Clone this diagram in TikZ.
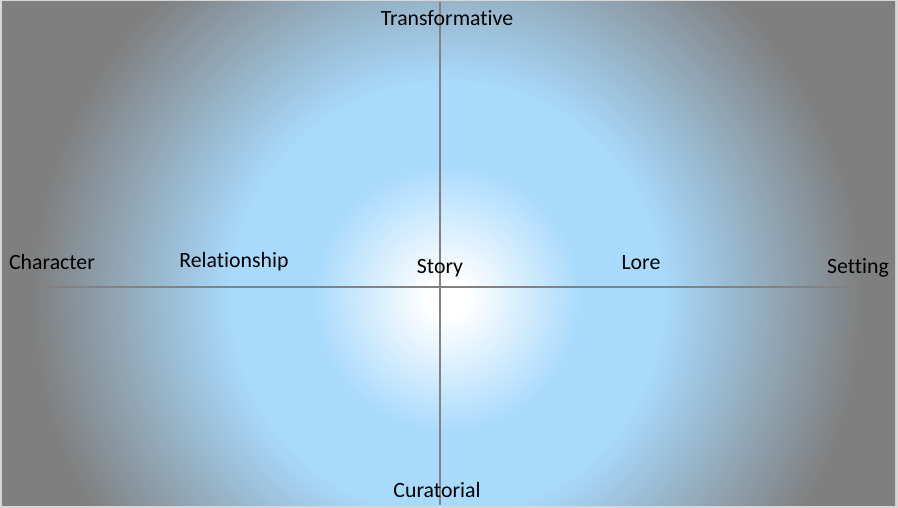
\documentclass[tikz,border=0pt]{standalone}
\usepackage{fontspec}
\setmainfont{Carlito}[Ligatures=NoCommon]
\usepackage{xcolor}
\usepackage{tikz}
\usetikzlibrary{positioning}
\definecolor{qsky}{HTML}{A8DAFC}
\definecolor{qgrey}{HTML}{7F7F7F}
\definecolor{qframe}{HTML}{D6D6D6}
\definecolor{qaxis}{HTML}{828282}
\pgfdeclareradialshading{qglow}{\pgfpoint{0pt}{0pt}}{%
  color(0pt)=(white); color(20pt)=(white); color(135pt)=(qsky);
  color(215pt)=(qsky); color(415pt)=(qgrey); color(650pt)=(qgrey)}
\tikzset{
  qaxisline/.style={qaxis, line width=1.6pt},
  qlbl/.style={text=black, inner sep=0pt, font=\fontsize{21.8}{25}\selectfont},
}

\begin{document}
\begin{tikzpicture}[x=1pt,y=-1pt]

  % moldura e fundo
  \fill[qframe] (0,0) rectangle (898,508);
  \useasboundingbox (0,0) rectangle (898,508);
  \begin{scope}
    \clip (2,2) rectangle (895,505);
    \node[inner sep=0pt] (glow) at (447,298) {\pgfuseshading{qglow}};
  \end{scope}

  % extremos dos eixos
  \coordinate (top)    at (440,2);
  \coordinate (bottom) at (440,505);
  \coordinate (left)   at (35,287);
  \coordinate (right)  at (862,287);

  \draw[qaxisline] (top) -- (bottom);
  \draw[qaxisline] (left) -- (right);

  % rótulos
  \node[qlbl] (trans) at (447,18)  {Transformative};
  \node[qlbl] (cur)   at (437,490) {Curatorial};
  \node[qlbl] (char)  at (52,262)  {Character};
  \node[qlbl] (rel)   at (234,262) {Relationship};
  \node[qlbl] (story) at (440,268) {Story};
  \node[qlbl] (lore)  at (641,263) {Lore};
  \node[qlbl] (set)   at (858,268) {Setting};

\end{tikzpicture}
\end{document}
